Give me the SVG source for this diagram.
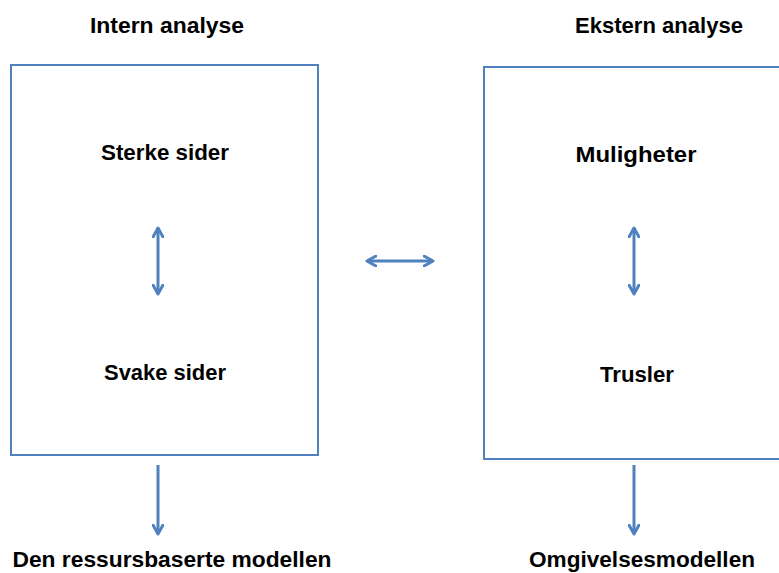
<svg xmlns="http://www.w3.org/2000/svg" width="779" height="573" viewBox="0 0 779 573">
<style>
.box{fill:#fff;stroke:#4F81BD;stroke-width:2}
.con{stroke:#4F81BD;stroke-width:3;fill:none}
text{font-family:"Liberation Sans",Arial,sans-serif;font-weight:bold;font-size:22px;fill:#000;text-anchor:middle}
</style>
<defs>
<marker id="ah" viewBox="0 0 12 12" refX="10" refY="6" markerWidth="12" markerHeight="12" markerUnits="userSpaceOnUse" orient="auto-start-reverse">
<path d="M1,1 L10,6 L1,11" fill="none" stroke="#4F81BD" stroke-width="3" stroke-linecap="round" stroke-linejoin="round"/>
</marker>
</defs>
<rect width="779" height="573" fill="#fff"/>
<g id="intern">
<text x="167" y="33" textLength="154" lengthAdjust="spacingAndGlyphs">Intern analyse</text>
<rect class="box" x="11" y="65" width="307" height="390"/>
<text x="165" y="160" textLength="128" lengthAdjust="spacingAndGlyphs">Sterke sider</text>
<text x="165" y="380" textLength="122" lengthAdjust="spacingAndGlyphs">Svake sider</text>
</g>
<g id="ekstern">
<text x="659" y="33" textLength="168" lengthAdjust="spacingAndGlyphs">Ekstern analyse</text>
<rect class="box" x="484" y="67" width="300" height="392"/>
<text x="636" y="162" textLength="121" lengthAdjust="spacingAndGlyphs">Muligheter</text>
<text x="637" y="382" textLength="74" lengthAdjust="spacingAndGlyphs">Trusler</text>
</g>
<g id="resurs">
<text x="172" y="567" textLength="319" lengthAdjust="spacingAndGlyphs">Den ressursbaserte modellen</text>
</g>
<g id="omgivelse">
<text x="642" y="567" textLength="226" lengthAdjust="spacingAndGlyphs">Omgivelsesmodellen</text>
</g>
<g id="connectors">
<line class="con" x1="158" y1="228" x2="158" y2="294" marker-start="url(#ah)" marker-end="url(#ah)"/>
<line class="con" x1="634" y1="228" x2="634" y2="294" marker-start="url(#ah)" marker-end="url(#ah)"/>
<line class="con" x1="367" y1="261" x2="433" y2="261" marker-start="url(#ah)" marker-end="url(#ah)"/>
<line class="con" x1="158" y1="465" x2="158" y2="534" marker-end="url(#ah)"/>
<line class="con" x1="634" y1="465" x2="634" y2="534" marker-end="url(#ah)"/>
</g>
</svg>
